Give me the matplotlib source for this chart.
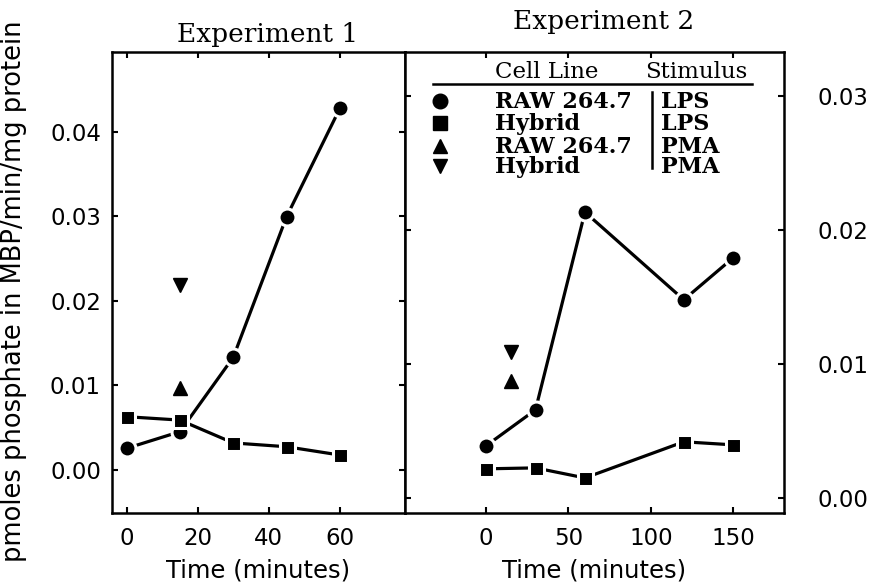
import matplotlib
matplotlib.use("Agg")
import matplotlib.pyplot as plt

# Experiment 1 data (minutes, pmoles/min/mg)
t1_lps = [0, 15, 30, 45, 60]
raw_lps_1 = [0.00256, 0.00453, 0.01332, 0.02994, 0.04275]
hyb_lps_1 = [0.0063, 0.0059, 0.0032, 0.00275, 0.00177]
t1_pma = [15]
raw_pma_1 = [0.00966]
hyb_pma_1 = [0.02187]

# Experiment 2 data
t2_lps = [0, 30, 60, 120, 150]
raw_lps_2 = [0.00387, 0.00656, 0.02133, 0.01478, 0.01792]
hyb_lps_2 = [0.00215, 0.00222, 0.00147, 0.00417, 0.00394]
t2_pma = [15]
raw_pma_2 = [0.00873]
hyb_pma_2 = [0.01085]

legend_cells = ["RAW 264.7", "Hybrid", "RAW 264.7", "Hybrid"]
legend_stim = ["LPS", "LPS", "PMA", "PMA"]
legend_markers = ["o", "s", "^", "v"]

W, H = 872, 583
fig = plt.figure(figsize=(W / 100, H / 100), dpi=100)

sans = "DejaVu Sans"
serif = "DejaVu Serif"

ax1 = fig.add_axes([112 / W, 1 - 513 / H, 293 / W, 461 / H])
ax2 = fig.add_axes([405 / W, 1 - 513 / H, 379 / W, 461 / H])

line_kw = dict(color="black", lw=2.3, mec="white", mew=2.2, zorder=3)

def draw(ax, t, raw, hyb, tp, rawp, hybp):
    ax.plot(t, raw, marker="o", ms=12.2, mfc="black", **line_kw)
    ax.plot(t, hyb, marker="s", ms=10.8, mfc="black", **line_kw)
    ax.plot(tp, rawp, ls="none", marker="^", ms=10, color="black")
    ax.plot(tp, hybp, ls="none", marker="v", ms=10, color="black")

draw(ax1, t1_lps, raw_lps_1, hyb_lps_1, t1_pma, raw_pma_1, hyb_pma_1)
draw(ax2, t2_lps, raw_lps_2, hyb_lps_2, t2_pma, raw_pma_2, hyb_pma_2)

ax1.set_xlim(-4.1, 78.3)
ax1.set_ylim(-0.00508, 0.0494)
ax1.set_xticks([0, 20, 40, 60])
ax1.set_yticks([0.0, 0.01, 0.02, 0.03, 0.04])
ax1.set_yticklabels(["0.00", "0.01", "0.02", "0.03", "0.04"])

ax2.set_xlim(-49.2, 180.8)
ax2.set_ylim(-0.00115, 0.03329)
ax2.set_xticks([0, 50, 100, 150])
ax2.set_yticks([0.0, 0.01, 0.02, 0.03])
ax2.set_yticklabels(["0.00", "0.01", "0.02", "0.03"])

for ax in (ax1, ax2):
    for s in ax.spines.values():
        s.set_linewidth(1.8)
    ax.tick_params(direction="in", length=4, width=1.5, top=True, right=True,
                   labelsize=16.5, labelfontfamily=sans)
    ax.tick_params(axis="x", pad=10)
    ax.set_xlabel("Time (minutes)", fontsize=17.5, family=sans, labelpad=6)

ax1.tick_params(axis="y", pad=8)
ax2.tick_params(axis="y", labelleft=False, labelright=True, pad=24)

fig.text(0.016, 0.5, "pmoles phosphate in MBP/min/mg protein", rotation=90,
         ha="center", va="center", fontsize=18.5, family=sans)
fig.text(268 / W, 1 - 42 / H, "Experiment 1", ha="center", va="baseline",
         fontsize=19, family=serif)
fig.text(604 / W, 1 - 29 / H, "Experiment 2", ha="center", va="baseline",
         fontsize=19, family=serif)

# hand-made legend table in Experiment 2 panel
tr = ax2.transAxes
ax2.plot([0.074, 0.916], [0.930, 0.930], color="black", lw=1.8, transform=tr, clip_on=False)
ax2.plot([0.652, 0.652], [0.913, 0.748], color="black", lw=1.8, transform=tr, clip_on=False)
ax2.text(0.2375, 0.943, "Cell Line", transform=tr, fontsize=16.5, family=serif, va="baseline")
ax2.text(0.633, 0.943, "Stimulus", transform=tr, fontsize=16.5, family=serif, va="baseline")
row_base = [0.8783, 0.8304, 0.7804, 0.7370]
for m, cell, stim, yb in zip(legend_markers, legend_cells, legend_stim, row_base):
    ax2.plot([0.0923], [yb + 0.016], marker=m, ms=10.5 if m == "o" else 9.5,
             color="black", transform=tr, clip_on=False)
    ax2.text(0.2375, yb, cell, transform=tr, fontsize=16, family=serif,
             weight="bold", va="baseline")
    ax2.text(0.676, yb, stim, transform=tr, fontsize=16, family=serif,
             weight="bold", va="baseline")

fig.savefig("out.png", dpi=100)
